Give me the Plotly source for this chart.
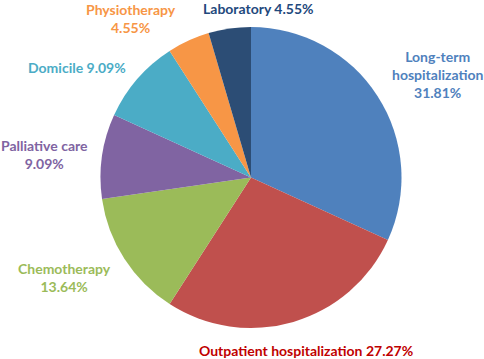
import plotly.graph_objects as go

categories = ["Long-term hospitalization", "Outpatient hospitalization", "Chemotherapy",
              "Palliative care", "Domicile", "Physiotherapy", "Laboratory"]
counts = [7, 6, 3, 2, 2, 1, 1]
pct_labels = ["31.81%", "27.27%", "13.64%", "9.09%", "9.09%", "4.55%", "4.55%"]
slice_colors = ["#4F81BD", "#C0504D", "#9BBB59", "#8064A2", "#4BACC6", "#F79646", "#2C4D75"]
text_colors = ["#4F81BD", "#C00000", "#9BBB59", "#8064A2", "#4BACC6", "#F79646", "#1F497D"]
label_text = ["Long-term<br>hospitalization<br>31.81%",
              "Outpatient hospitalization 27.27%",
              "Chemotherapy<br>13.64%",
              "Palliative care<br>9.09%",
              "Domicile 9.09%",
              "Physiotherapy<br>4.55%",
              "Laboratory 4.55%"]
# label centres in pixels (x, y from top)
label_pos = [(437, 75), (306, 350), (64, 277), (44, 154), (77, 67), (131, 18), (258, 9)]

W, H = 484, 359

fig = go.Figure(go.Pie(
    labels=categories, values=counts, sort=False, direction="clockwise", rotation=0,
    marker=dict(colors=slice_colors, line=dict(width=0)),
    textinfo="none", hoverinfo="label+percent", showlegend=False,
    domain=dict(x=[100 / W, 402 / W], y=[(H - 328) / H, (H - 27) / H]),
))

for txt, col, (px, py) in zip(label_text, text_colors, label_pos):
    fig.add_annotation(x=px / W, y=1 - py / H, xref="paper", yref="paper",
                       text="<b>" + txt + "</b>", showarrow=False,
                       font=dict(family="Lato", size=14, color=col),
                       xanchor="center", yanchor="middle", align="center")

fig.update_layout(width=W, height=H, margin=dict(l=0, r=0, t=0, b=0),
                  paper_bgcolor="white", plot_bgcolor="white")
fig.write_html("out.html", config={"displayModeBar": False},
               post_script="document.body.style.margin='0px';document.body.style.overflow='hidden';")
